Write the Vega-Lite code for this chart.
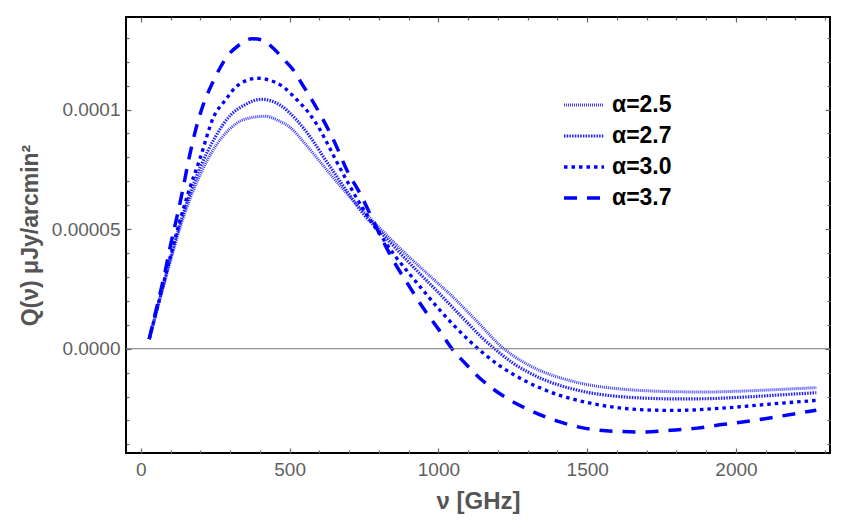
{
  "$schema": "https://vega.github.io/schema/vega-lite/v6.json",
  "autosize": {"type": "none"},
  "padding": {"left": 126, "top": 17, "right": 14, "bottom": 79},
  "width": 704,
  "height": 436,
  "background": "white",
  "datasets": {
    "curves": [
      {"a": "α=2.5", "nu": 28, "q": 0.4e-5}, {"a": "α=2.5", "nu": 60, "q": 1.9e-5}, {"a": "α=2.5", "nu": 100, "q": 3.7e-5},
      {"a": "α=2.5", "nu": 130, "q": 5.0e-5}, {"a": "α=2.5", "nu": 160, "q": 6.1e-5}, {"a": "α=2.5", "nu": 200, "q": 7.3e-5},
      {"a": "α=2.5", "nu": 250, "q": 8.45e-5}, {"a": "α=2.5", "nu": 300, "q": 9.2e-5}, {"a": "α=2.5", "nu": 350, "q": 9.6e-5},
      {"a": "α=2.5", "nu": 420, "q": 9.72e-5}, {"a": "α=2.5", "nu": 460, "q": 9.55e-5}, {"a": "α=2.5", "nu": 500, "q": 9.27e-5},
      {"a": "α=2.5", "nu": 550, "q": 8.6e-5}, {"a": "α=2.5", "nu": 600, "q": 7.85e-5}, {"a": "α=2.5", "nu": 650, "q": 7.1e-5},
      {"a": "α=2.5", "nu": 700, "q": 6.38e-5}, {"a": "α=2.5", "nu": 750, "q": 5.72e-5}, {"a": "α=2.5", "nu": 800, "q": 5.08e-5},
      {"a": "α=2.5", "nu": 850, "q": 4.45e-5}, {"a": "α=2.5", "nu": 900, "q": 3.85e-5}, {"a": "α=2.5", "nu": 950, "q": 3.28e-5},
      {"a": "α=2.5", "nu": 1000, "q": 2.72e-5}, {"a": "α=2.5", "nu": 1050, "q": 2.15e-5}, {"a": "α=2.5", "nu": 1100, "q": 1.52e-5},
      {"a": "α=2.5", "nu": 1150, "q": 0.88e-5}, {"a": "α=2.5", "nu": 1200, "q": 0.22e-5}, {"a": "α=2.5", "nu": 1250, "q": -0.28e-5},
      {"a": "α=2.5", "nu": 1300, "q": -0.66e-5}, {"a": "α=2.5", "nu": 1350, "q": -0.96e-5}, {"a": "α=2.5", "nu": 1400, "q": -1.18e-5},
      {"a": "α=2.5", "nu": 1500, "q": -1.5e-5}, {"a": "α=2.5", "nu": 1600, "q": -1.67e-5}, {"a": "α=2.5", "nu": 1700, "q": -1.76e-5},
      {"a": "α=2.5", "nu": 1800, "q": -1.8e-5}, {"a": "α=2.5", "nu": 1900, "q": -1.81e-5}, {"a": "α=2.5", "nu": 2000, "q": -1.78e-5},
      {"a": "α=2.5", "nu": 2100, "q": -1.73e-5}, {"a": "α=2.5", "nu": 2200, "q": -1.67e-5}, {"a": "α=2.5", "nu": 2270, "q": -1.63e-5},

      {"a": "α=2.7", "nu": 28, "q": 0.4e-5}, {"a": "α=2.7", "nu": 60, "q": 1.92e-5}, {"a": "α=2.7", "nu": 100, "q": 3.8e-5},
      {"a": "α=2.7", "nu": 130, "q": 5.15e-5}, {"a": "α=2.7", "nu": 160, "q": 6.3e-5}, {"a": "α=2.7", "nu": 200, "q": 7.6e-5},
      {"a": "α=2.7", "nu": 250, "q": 8.85e-5}, {"a": "α=2.7", "nu": 300, "q": 9.75e-5}, {"a": "α=2.7", "nu": 350, "q": 10.2e-5},
      {"a": "α=2.7", "nu": 405, "q": 10.43e-5}, {"a": "α=2.7", "nu": 470, "q": 10.17e-5}, {"a": "α=2.7", "nu": 525, "q": 9.54e-5},
      {"a": "α=2.7", "nu": 570, "q": 8.84e-5}, {"a": "α=2.7", "nu": 615, "q": 8.0e-5}, {"a": "α=2.7", "nu": 660, "q": 7.17e-5},
      {"a": "α=2.7", "nu": 700, "q": 6.45e-5}, {"a": "α=2.7", "nu": 750, "q": 5.6e-5}, {"a": "α=2.7", "nu": 800, "q": 4.95e-5},
      {"a": "α=2.7", "nu": 850, "q": 4.28e-5}, {"a": "α=2.7", "nu": 900, "q": 3.62e-5}, {"a": "α=2.7", "nu": 950, "q": 2.98e-5},
      {"a": "α=2.7", "nu": 1000, "q": 2.35e-5}, {"a": "α=2.7", "nu": 1050, "q": 1.7e-5}, {"a": "α=2.7", "nu": 1100, "q": 1.05e-5},
      {"a": "α=2.7", "nu": 1150, "q": 0.42e-5}, {"a": "α=2.7", "nu": 1200, "q": -0.12e-5}, {"a": "α=2.7", "nu": 1250, "q": -0.6e-5},
      {"a": "α=2.7", "nu": 1300, "q": -0.97e-5}, {"a": "α=2.7", "nu": 1350, "q": -1.27e-5}, {"a": "α=2.7", "nu": 1400, "q": -1.5e-5},
      {"a": "α=2.7", "nu": 1500, "q": -1.82e-5}, {"a": "α=2.7", "nu": 1600, "q": -1.99e-5}, {"a": "α=2.7", "nu": 1700, "q": -2.07e-5},
      {"a": "α=2.7", "nu": 1800, "q": -2.1e-5}, {"a": "α=2.7", "nu": 1900, "q": -2.09e-5}, {"a": "α=2.7", "nu": 2000, "q": -2.04e-5},
      {"a": "α=2.7", "nu": 2100, "q": -1.97e-5}, {"a": "α=2.7", "nu": 2200, "q": -1.89e-5}, {"a": "α=2.7", "nu": 2270, "q": -1.84e-5},

      {"a": "α=3.0", "nu": 28, "q": 0.4e-5}, {"a": "α=3.0", "nu": 60, "q": 1.95e-5}, {"a": "α=3.0", "nu": 100, "q": 3.9e-5},
      {"a": "α=3.0", "nu": 130, "q": 5.3e-5}, {"a": "α=3.0", "nu": 160, "q": 6.55e-5}, {"a": "α=3.0", "nu": 200, "q": 8.0e-5},
      {"a": "α=3.0", "nu": 244, "q": 9.68e-5}, {"a": "α=3.0", "nu": 283, "q": 10.38e-5}, {"a": "α=3.0", "nu": 320, "q": 10.95e-5},
      {"a": "α=3.0", "nu": 356, "q": 11.22e-5}, {"a": "α=3.0", "nu": 390, "q": 11.31e-5}, {"a": "α=3.0", "nu": 423, "q": 11.26e-5},
      {"a": "α=3.0", "nu": 479, "q": 10.94e-5}, {"a": "α=3.0", "nu": 525, "q": 10.4e-5}, {"a": "α=3.0", "nu": 565, "q": 9.85e-5},
      {"a": "α=3.0", "nu": 600, "q": 9.2e-5}, {"a": "α=3.0", "nu": 630, "q": 8.5e-5}, {"a": "α=3.0", "nu": 663, "q": 7.7e-5},
      {"a": "α=3.0", "nu": 700, "q": 6.85e-5}, {"a": "α=3.0", "nu": 750, "q": 5.78e-5}, {"a": "α=3.0", "nu": 800, "q": 4.85e-5},
      {"a": "α=3.0", "nu": 850, "q": 3.95e-5}, {"a": "α=3.0", "nu": 900, "q": 3.17e-5}, {"a": "α=3.0", "nu": 950, "q": 2.42e-5},
      {"a": "α=3.0", "nu": 1000, "q": 1.68e-5}, {"a": "α=3.0", "nu": 1050, "q": 1.0e-5}, {"a": "α=3.0", "nu": 1100, "q": 0.38e-5},
      {"a": "α=3.0", "nu": 1150, "q": -0.18e-5}, {"a": "α=3.0", "nu": 1200, "q": -0.66e-5}, {"a": "α=3.0", "nu": 1250, "q": -1.06e-5},
      {"a": "α=3.0", "nu": 1300, "q": -1.4e-5}, {"a": "α=3.0", "nu": 1350, "q": -1.68e-5}, {"a": "α=3.0", "nu": 1400, "q": -1.92e-5},
      {"a": "α=3.0", "nu": 1450, "q": -2.1e-5}, {"a": "α=3.0", "nu": 1500, "q": -2.25e-5}, {"a": "α=3.0", "nu": 1600, "q": -2.46e-5},
      {"a": "α=3.0", "nu": 1700, "q": -2.56e-5}, {"a": "α=3.0", "nu": 1800, "q": -2.58e-5}, {"a": "α=3.0", "nu": 1900, "q": -2.53e-5},
      {"a": "α=3.0", "nu": 2000, "q": -2.44e-5}, {"a": "α=3.0", "nu": 2100, "q": -2.33e-5}, {"a": "α=3.0", "nu": 2200, "q": -2.23e-5},
      {"a": "α=3.0", "nu": 2270, "q": -2.16e-5},

      {"a": "α=3.7", "nu": 28, "q": 0.4e-5}, {"a": "α=3.7", "nu": 45, "q": 1.3e-5}, {"a": "α=3.7", "nu": 60, "q": 2.07e-5},
      {"a": "α=3.7", "nu": 82, "q": 3.26e-5}, {"a": "α=3.7", "nu": 100, "q": 4.35e-5}, {"a": "α=3.7", "nu": 121, "q": 5.5e-5},
      {"a": "α=3.7", "nu": 140, "q": 6.6e-5}, {"a": "α=3.7", "nu": 160, "q": 7.85e-5}, {"a": "α=3.7", "nu": 183, "q": 9.1e-5},
      {"a": "α=3.7", "nu": 203, "q": 9.96e-5}, {"a": "α=3.7", "nu": 244, "q": 11.2e-5}, {"a": "α=3.7", "nu": 289, "q": 12.2e-5},
      {"a": "α=3.7", "nu": 330, "q": 12.7e-5}, {"a": "α=3.7", "nu": 373, "q": 12.96e-5}, {"a": "α=3.7", "nu": 410, "q": 12.9e-5},
      {"a": "α=3.7", "nu": 446, "q": 12.55e-5}, {"a": "α=3.7", "nu": 480, "q": 12.1e-5}, {"a": "α=3.7", "nu": 513, "q": 11.64e-5},
      {"a": "α=3.7", "nu": 540, "q": 11.1e-5}, {"a": "α=3.7", "nu": 569, "q": 10.52e-5}, {"a": "α=3.7", "nu": 608, "q": 9.68e-5},
      {"a": "α=3.7", "nu": 653, "q": 8.58e-5}, {"a": "α=3.7", "nu": 693, "q": 7.45e-5}, {"a": "α=3.7", "nu": 737, "q": 6.48e-5},
      {"a": "α=3.7", "nu": 800, "q": 4.85e-5}, {"a": "α=3.7", "nu": 850, "q": 3.65e-5}, {"a": "α=3.7", "nu": 900, "q": 2.65e-5},
      {"a": "α=3.7", "nu": 950, "q": 1.68e-5}, {"a": "α=3.7", "nu": 1000, "q": 0.82e-5}, {"a": "α=3.7", "nu": 1050, "q": -0.07e-5},
      {"a": "α=3.7", "nu": 1083, "q": -0.52e-5}, {"a": "α=3.7", "nu": 1150, "q": -1.35e-5}, {"a": "α=3.7", "nu": 1230, "q": -2.07e-5},
      {"a": "α=3.7", "nu": 1314, "q": -2.61e-5}, {"a": "α=3.7", "nu": 1400, "q": -3.03e-5}, {"a": "α=3.7", "nu": 1490, "q": -3.32e-5},
      {"a": "α=3.7", "nu": 1590, "q": -3.45e-5}, {"a": "α=3.7", "nu": 1690, "q": -3.48e-5}, {"a": "α=3.7", "nu": 1780, "q": -3.41e-5},
      {"a": "α=3.7", "nu": 1870, "q": -3.32e-5}, {"a": "α=3.7", "nu": 1960, "q": -3.16e-5}, {"a": "α=3.7", "nu": 2060, "q": -3.0e-5},
      {"a": "α=3.7", "nu": 2150, "q": -2.82e-5}, {"a": "α=3.7", "nu": 2270, "q": -2.57e-5}
    ]
  },
  "layer": [
    {
      "data": {"name": "curves"},
      "mark": {"type": "line", "interpolate": "monotone", "strokeCap": "butt", "clip": true},
      "encoding": {
        "x": {
          "field": "nu",
          "type": "quantitative",
          "title": "ν [GHz]",
          "scale": {"domain": [-50, 2316], "nice": false, "zero": false},
          "axis": {
            "orient": "bottom",
            "values": [0, 100, 200, 300, 400, 500, 600, 700, 800, 900, 1000, 1100, 1200, 1300, 1400, 1500, 1600, 1700, 1800, 1900, 2000, 2100, 2200, 2300],
            "labelExpr": "datum.value % 500 == 0 ? datum.label : ''",
            "format": "d",
            "tickSize": {"condition": {"test": "datum.value % 500 == 0", "value": -5}, "value": -3},
            "labelPadding": 12,
            "titlePadding": 10
          }
        },
        "y": {
          "field": "q",
          "type": "quantitative",
          "title": "Q(ν) μJy/arcmin²",
          "scale": {"domain": [-0.0000436, 0.0001387], "nice": false, "zero": false},
          "axis": {
            "orient": "left",
            "values": [-0.00004, -0.00003, -0.00002, -0.00001, 0, 0.00001, 0.00002, 0.00003, 0.00004, 0.00005, 0.00006, 0.00007, 0.00008, 0.00009, 0.0001, 0.00011, 0.00012, 0.00013],
            "labelExpr": "abs(datum.value) < 1e-9 ? '0.0000' : abs(datum.value - 0.00005) < 1e-9 ? '0.00005' : abs(datum.value - 0.0001) < 1e-9 ? '0.0001' : ''",
            "tickSize": {"condition": {"test": "abs(datum.value - round(datum.value / 0.00005) * 0.00005) < 1e-9", "value": -5}, "value": -3},
            "labelPadding": 11,
            "titlePadding": 9,
            "titleFontSize": 23
          }
        },
        "color": {
          "field": "a",
          "type": "nominal",
          "scale": {"domain": ["α=2.5", "α=2.7", "α=3.0", "α=3.7"], "range": ["#3c3cff", "#2020ff", "#0000ff", "#0000ff"]},
          "legend": {
            "orient": "none",
            "legendX": 436,
            "legendY": 78,
            "title": null,
            "symbolType": "stroke",
            "symbolSize": 1600,
            "clipHeight": 20,
            "labelFontSize": 23,
            "labelFontWeight": "bold",
            "labelColor": "black",
            "labelFont": "Liberation Sans",
            "rowPadding": 8,
            "labelOffset": 6
          }
        },
        "strokeDash": {
          "field": "a",
          "type": "nominal",
          "scale": {"domain": ["α=2.5", "α=2.7", "α=3.0", "α=3.7"], "range": [[1, 1], [1.5, 1.2], [3.5, 4], [13, 10]]}
        },
        "strokeWidth": {
          "field": "a",
          "type": "nominal",
          "scale": {"domain": ["α=2.5", "α=2.7", "α=3.0", "α=3.7"], "range": [3, 3.5, 4, 4.5]}
        }
      }
    },
    {
      "data": {"values": [{}]},
      "mark": {"type": "rule", "color": "#777777", "strokeWidth": 1},
      "encoding": {
        "y": {
          "datum": 0,
          "type": "quantitative",
          "axis": {
            "orient": "right",
            "title": null,
            "labels": false,
            "values": [-0.00004, -0.00003, -0.00002, -0.00001, 0, 0.00001, 0.00002, 0.00003, 0.00004, 0.00005, 0.00006, 0.00007, 0.00008, 0.00009, 0.0001, 0.00011, 0.00012, 0.00013],
            "tickSize": {"condition": {"test": "abs(datum.value - round(datum.value / 0.00005) * 0.00005) < 1e-9", "value": -5}, "value": -3}
          }
        },
        "x": {
          "datum": -50,
          "type": "quantitative",
          "axis": {
            "orient": "top",
            "title": null,
            "labels": false,
            "values": [0, 100, 200, 300, 400, 500, 600, 700, 800, 900, 1000, 1100, 1200, 1300, 1400, 1500, 1600, 1700, 1800, 1900, 2000, 2100, 2200, 2300],
            "tickSize": {"condition": {"test": "datum.value % 500 == 0", "value": -5}, "value": -3}
          }
        },
        "x2": {"datum": 2316}
      }
    }
  ],
  "resolve": {"axis": {"x": "independent", "y": "independent"}},
  "config": {
    "view": {"stroke": "black", "strokeWidth": 2},
    "axis": {
      "domain": false,
      "grid": false,
      "tickColor": "#666666",
      "tickWidth": 1.2,
      "labelFont": "Liberation Sans",
      "labelFontSize": 19,
      "labelColor": "#5f5f5f",
      "titleFont": "Liberation Sans",
      "titleFontSize": 24,
      "titleFontWeight": "bold",
      "titleColor": "#555555"
    }
  }
}
